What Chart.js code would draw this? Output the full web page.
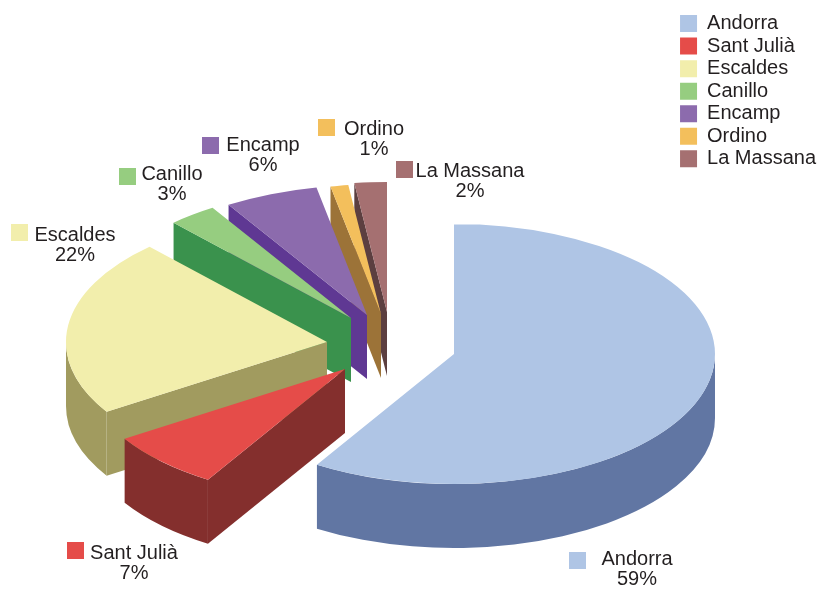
<!DOCTYPE html>
<html>
<head>
<meta charset="utf-8">
<title>Pie</title>
<style>html,body{margin:0;padding:0;background:#fff}canvas{display:block}</style>
<script src="https://cdn.jsdelivr.net/npm/chart.js@4/dist/chart.umd.js"></script>
</head>
<body>
<canvas id="c" width="820" height="589"></canvas>
<script>
// Data
const categories = ['Andorra', 'Sant Julià', 'Escaldes', 'Canillo', 'Encamp', 'Ordino', 'La Massana'];
const shares = [58.8, 7.2, 22.1, 3, 5.8, 1.1, 2];

// Styles
const topColors = ['#AFC5E5', '#E54C49', '#F2EEAC', '#96CD80', '#8C6BAD', '#F3BF5C', '#A57071'];
const sideColors = ['#6176A3', '#842F2D', '#A19B5F', '#3A924D', '#5F3893', '#9C7338', '#5C3F40'];
const TEXT = '#231F20';
const FONT = '20px "Liberation Sans", Arial, sans-serif';

// Layout of the exploded 3D view
const RADIUS = 261, RADIUS_Y = 130, DEPTH = 64;
const apexes = [[454,354],[345,369],[327,342],[351,318],[367,315],[381,314],[387,312]];
const paintOrder = [6,5,4,3,2,1,0];
const labelLayout = [
  {sx:569, sy:552, tx:637, y1:565, y2:585},
  {sx:67,  sy:542, tx:134, y1:559, y2:579},
  {sx:11,  sy:224, tx:75,  y1:241, y2:261},
  {sx:119, sy:168, tx:172, y1:180, y2:200},
  {sx:202, sy:137, tx:263, y1:151, y2:171},
  {sx:318, sy:119, tx:374, y1:135, y2:155},
  {sx:396, sy:161, tx:470, y1:177, y2:197}
];

const pie3d = {
  id: 'pie3d',
  beforeDatasetsDraw(chart) {
    const ctx = chart.ctx;
    const arcs = chart.getDatasetMeta(0).data;
    const PI = Math.PI;
    paintOrder.forEach(i => {
      const arc = arcs[i];
      const [ax, ay] = apexes[i];
      const s = arc.startAngle, e = arc.endAngle, R = arc.outerRadius;
      ctx.save();
      ctx.fillStyle = sideColors[i];
      // radial cut face, visible on the left half of the pie
      const sN = (s + 2 * PI) % (2 * PI);
      if (sN > PI / 2 && sN < 3 * PI / 2) {
        const ox = ax + R * Math.cos(s), oy = ay + RADIUS_Y * Math.sin(s);
        ctx.beginPath();
        ctx.moveTo(ax, ay);
        ctx.lineTo(ox, oy);
        ctx.lineTo(ox, oy + DEPTH);
        ctx.lineTo(ax, ay + DEPTH);
        ctx.closePath();
        ctx.fill();
      }
      // outer rim, visible on the front half
      const t0 = Math.max(s, 0), t1 = Math.min(e, PI);
      if (t1 > t0) {
        ctx.beginPath();
        ctx.ellipse(ax, ay, R, RADIUS_Y, 0, t0, t1, false);
        ctx.ellipse(ax, ay + DEPTH, R, RADIUS_Y, 0, t1, t0, true);
        ctx.closePath();
        ctx.fill();
      }
      ctx.restore();
      // top face, drawn by the library's arc element
      ctx.save();
      ctx.translate(ax, ay);
      ctx.scale(1, RADIUS_Y / R);
      ctx.translate(-arc.x, -arc.y);
      arc.draw(ctx);
      ctx.restore();
    });
    return false;
  },
  afterDraw(chart) {
    const ctx = chart.ctx;
    ctx.save();
    ctx.font = FONT;
    ctx.textAlign = 'center';
    ctx.textBaseline = 'alphabetic';
    labelLayout.forEach((l, i) => {
      ctx.fillStyle = topColors[i];
      ctx.fillRect(l.sx, l.sy, 17, 17);
      ctx.fillStyle = TEXT;
      ctx.fillText(categories[i], l.tx, l.y1);
      ctx.fillText(Math.round(shares[i]) + '%', l.tx, l.y2);
    });
    ctx.restore();
  }
};

new Chart(document.getElementById('c'), {
  type: 'pie',
  data: {
    labels: categories,
    datasets: [{
      data: shares,
      backgroundColor: topColors,
      borderWidth: 0,
      radius: RADIUS
    }]
  },
  options: {
    responsive: false,
    animation: false,
    rotation: 0,
    layout: { padding: { top: 11, right: -6, bottom: 0, left: 0 } },
    plugins: {
      tooltip: { enabled: false },
      title: { display: false },
      legend: {
        display: true,
        position: 'right',
        align: 'start',
        labels: {
          boxWidth: 17,
          boxHeight: 17,
          padding: 2.55,
          color: TEXT,
          font: { family: '"Liberation Sans", Arial, sans-serif', size: 20 }
        }
      }
    }
  },
  plugins: [pie3d]
});
</script>
</body>
</html>
